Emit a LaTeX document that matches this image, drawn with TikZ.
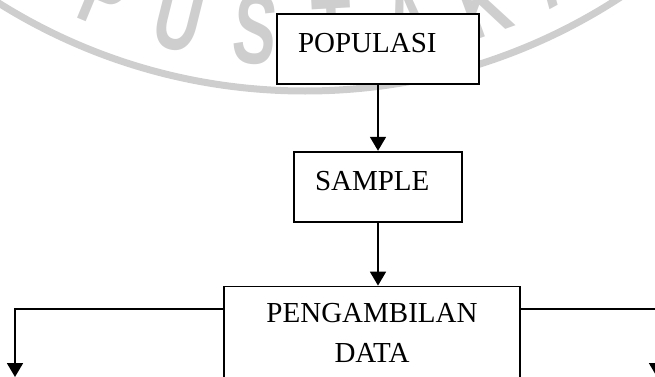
\documentclass[tikz,border=0pt]{standalone}
\usepackage{fontspec}
\setmainfont{Liberation Serif}
\newfontfamily\wmfont{Liberation Sans}
\usepackage{graphicx}
\usepackage{tikz}
\usetikzlibrary{arrows.meta,positioning}
\definecolor{wmgray}{RGB}{206,206,206}

\begin{document}
\begin{tikzpicture}[
    x=1pt, y=1pt,
    node distance=63pt,
    stage/.style={
        draw,
        fill=white,
        line width=1.8pt,
        font=\fontsize{29}{40}\selectfont,
        align=left,
        inner xsep=21pt,
        inner ysep=0pt,
        text height=39pt,
        text depth=31pt
    },
    bigstage/.style={
        draw,
        fill=white,
        line width=1.8pt,
        font=\fontsize{29}{40}\selectfont,
        align=center,
        text width=296pt,
        inner xsep=0pt,
        inner ysep=17pt
    },
    wmark/.style={
        font=\wmfont\bfseries\fontsize{100}{100}\selectfont,
        text=wmgray,
        inner sep=0pt,
        anchor=south
    },
    arrow/.style={-{Triangle[length=14pt,width=16pt]}, line width=1.8pt}
]
\useasboundingbox (0,0) rectangle (655,376);
\clip (0,0) rectangle (655,376);

\coordinate (wmc) at (305,862);
\draw[wmgray, line width=7pt] (wmc) circle[radius=577];
\foreach \ch/\ang [count=\i] in {P/-22.5,U/-14,S/-5.5,T/3,A/11.5,K/20,A/28.5}
    \node[wmark, rotate=\ang] (wm\i) at ([shift={(-90+\ang:553)}]wmc) {\scalebox{0.65}[1]{\ch}};

\node[stage, text width=160pt, anchor=north] (pop) at (378,363) {POPULASI};
\node[stage, text width=126pt, below=66pt of pop] (samp) {SAMPLE};
\node[bigstage, below=63pt of samp, xshift=-6pt] (data) {PENGAMBILAN\\DATA\\\rule{0pt}{60pt}};

\coordinate (outL) at (15,-1);
\coordinate (outR) at (657,-1);

\draw[arrow] (pop) -- (samp);
\draw[arrow] (samp.south) -- (samp.south |- data.north);
\draw[arrow] ([yshift=-23pt]data.north west) -| (outL);
\draw[arrow] ([yshift=-23pt]data.north east) -| (outR);
\end{tikzpicture}
\end{document}
